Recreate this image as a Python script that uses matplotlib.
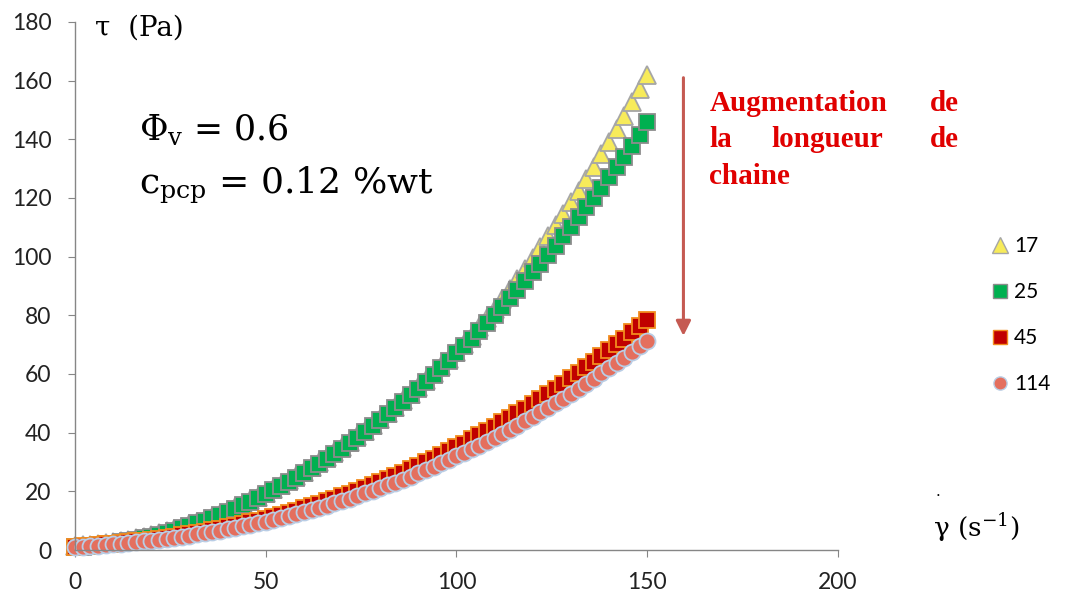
import matplotlib
matplotlib.use('Agg')
import matplotlib.pyplot as plt
from matplotlib.lines import Line2D

# shear rate (s^-1)
shear_rate = [0, 2, 4, 6, 8, 10, 12, 14, 16, 18, 20, 22, 24, 26, 28, 30, 32, 34, 36, 38,
              40, 42, 44, 46, 48, 50, 52, 54, 56, 58, 60, 62, 64, 66, 68, 70, 72, 74, 76,
              78, 80, 82, 84, 86, 88, 90, 92, 94, 96, 98, 100, 102, 104, 106, 108, 110,
              112, 114, 116, 118, 120, 122, 124, 126, 128, 130, 132, 134, 136, 138, 140,
              142, 144, 146, 148, 150]

# stress (Pa) for each chain length
tau_17 = [1.5, 1.6, 1.8, 2.1, 2.4, 2.7, 3.1, 3.5, 4.0, 4.5, 5.1, 5.7, 6.4, 7.1, 7.9, 8.7,
          9.6, 10.5, 11.4, 12.4, 13.5, 14.6, 15.8, 17.0, 18.2, 19.5, 20.8, 22.2, 23.7,
          25.2, 26.7, 28.3, 29.9, 31.6, 33.3, 35.1, 36.9, 38.8, 40.7, 42.7, 44.7, 46.8,
          48.9, 51.0, 53.2, 55.5, 57.8, 60.2, 62.6, 65.0, 67.6, 70.3, 73.0, 76.0, 79.1,
          82.3, 85.6, 89.0, 92.4, 95.9, 99.5, 103.2, 106.9, 110.7, 114.5, 118.5, 122.5,
          126.6, 130.7, 134.9, 139.2, 143.6, 148.1, 152.6, 157.2, 161.9]
tau_25 = [1.0, 1.1, 1.3, 1.6, 1.9, 2.2, 2.6, 3.0, 3.5, 4.0, 4.6, 5.2, 5.9, 6.6, 7.4, 8.2,
          9.1, 10.0, 10.9, 11.9, 13.0, 14.1, 15.3, 16.5, 17.7, 19.0, 20.3, 21.7, 23.2,
          24.7, 26.2, 27.8, 29.4, 31.1, 32.8, 34.6, 36.4, 38.3, 40.2, 42.2, 44.2, 46.3,
          48.4, 50.5, 52.7, 55.0, 57.3, 59.7, 62.1, 64.5, 67.0, 69.5, 72.1, 74.8, 77.5,
          80.2, 83.0, 85.8, 88.7, 91.6, 94.6, 97.6, 100.7, 103.8, 107.0, 110.2, 113.5,
          116.8, 120.1, 123.5, 127.0, 130.5, 134.1, 137.7, 141.5, 146.0]
tau_45 = [1.0, 1.2, 1.4, 1.6, 1.9, 2.1, 2.4, 2.6, 2.9, 3.2, 3.5, 3.9, 4.2, 4.6, 5.0, 5.4,
          5.8, 6.3, 6.8, 7.2, 7.8, 8.3, 8.9, 9.4, 10.0, 10.7, 11.3, 12.0, 12.7, 13.4,
          14.2, 15.0, 15.8, 16.6, 17.5, 18.3, 19.2, 20.2, 21.2, 22.1, 23.2, 24.2, 25.3,
          26.4, 27.5, 28.7, 29.9, 31.1, 32.4, 33.7, 35.0, 36.3, 37.7, 39.1, 40.6, 42.0,
          43.5, 45.1, 46.6, 48.2, 49.9, 51.5, 53.2, 55.0, 56.7, 58.6, 60.4, 62.3, 64.2,
          66.1, 68.1, 70.1, 72.1, 74.2, 76.3, 78.5]
tau_114 = [0.9, 1.1, 1.3, 1.5, 1.7, 1.9, 2.2, 2.4, 2.6, 2.9, 3.2, 3.5, 3.8, 4.2, 4.6, 4.9,
           5.3, 5.7, 6.2, 6.6, 7.1, 7.6, 8.1, 8.6, 9.1, 9.7, 10.3, 10.9, 11.6, 12.2, 12.9,
           13.7, 14.4, 15.1, 15.9, 16.7, 17.5, 18.4, 19.3, 20.1, 21.1, 22.0, 23.0, 24.0,
           25.0, 26.1, 27.2, 28.3, 29.5, 30.7, 31.9, 33.0, 34.3, 35.6, 36.9, 38.2, 39.6,
           41.0, 42.4, 43.9, 45.4, 46.9, 48.4, 50.1, 51.6, 53.3, 55.0, 56.7, 58.4, 60.2,
           62.0, 63.8, 65.6, 67.5, 69.4, 71.4]

labels = ['17', '25', '45', '114']
series = [tau_17, tau_25, tau_45, tau_114]
markers = ['^', 's', 's', 'o']
faces = ['#F7EB5A', '#00B050', '#C00000', '#E46F5E']
edges = ['#A6A6A6', '#8C8C8C', '#F28C1E', '#B9CDE5']
sizes = [13, 12, 12, 11.5]

axis_grey = '#868686'
serif = 'DejaVu Serif'
plt.rcParams['mathtext.fontset'] = 'dejavuserif'

fig = plt.figure(figsize=(10.7, 5.99), dpi=100)
ax = fig.add_axes([0.0701, 0.0818, 0.713, 0.8815])

for y, m, fc, ec, ms in zip(series, markers, faces, edges, sizes):
    ax.plot(shear_rate, y, linestyle='none', marker=m, markersize=ms,
            markerfacecolor=fc, markeredgecolor=ec, markeredgewidth=1.3, clip_on=False)

ax.set_xlim(0, 200)
ax.set_ylim(0, 180)
ax.set_xticks([0, 50, 100, 150, 200])
ax.set_yticks(range(0, 181, 20))
for s in ['top', 'right']:
    ax.spines[s].set_visible(False)
for s in ['left', 'bottom']:
    ax.spines[s].set_color(axis_grey)
    ax.spines[s].set_linewidth(1.0)
ax.tick_params(direction='out', length=5, color=axis_grey, labelsize=16.5,
               labelcolor='#222222')
ax.tick_params(axis='x', pad=11)
ax.tick_params(axis='y', pad=12)
for t in ax.get_xticklabels() + ax.get_yticklabels():
    t.set_family('Lato')

# axis titles, placed like in the source figure
fig.text(0.089, 0.953, 'τ  (Pa)', family=serif, fontsize=20, va='center')
fig.text(0.872, 0.120, 'γ (s$^{-1}$)', family=serif, fontsize=19, va='center')
fig.text(0.874, 0.178, '.', family=serif, fontsize=11, va='center')

# experimental conditions
fig.text(0.130, 0.782, r'$\Phi_{\rm v}$ = 0.6', family=serif, fontsize=25, va='center')
fig.text(0.130, 0.690, r'c$_{\rm pcp}$ = 0.12 %wt', family=serif, fontsize=26, va='center')

# arrow + annotation
ax.annotate('', xy=(159.5, 73), xytext=(159.5, 161),
            arrowprops=dict(arrowstyle='-|>', color='#C55A52', lw=2.2,
                            mutation_scale=22, shrinkA=0, shrinkB=0))
red = '#E00000'
kw = dict(family='Liberation Serif', fontsize=21, fontweight='bold', color=red, va='center')
fig.text(0.663, 0.828, 'Augmentation', ha='left', **kw)
fig.text(0.896, 0.828, 'de', ha='right', **kw)
fig.text(0.663, 0.767, 'la', ha='left', **kw)
fig.text(0.773, 0.767, 'longueur', ha='center', **kw)
fig.text(0.896, 0.767, 'de', ha='right', **kw)
fig.text(0.663, 0.705, 'chaine', ha='left', **kw)

handles = [Line2D([], [], linestyle='none', marker=m, markersize=ms - 2,
                  markerfacecolor=fc, markeredgecolor=ec, markeredgewidth=1.0)
           for m, fc, ec, ms in zip(markers, faces, edges, sizes)]
leg = fig.legend(handles, labels, loc='upper left', bbox_to_anchor=(0.905, 0.637),
                 frameon=False, labelspacing=1.25, handletextpad=0.1,
                 handlelength=1.2, prop={'family': 'Lato', 'size': 15})

fig.savefig('out.png', dpi=100, facecolor='white')
